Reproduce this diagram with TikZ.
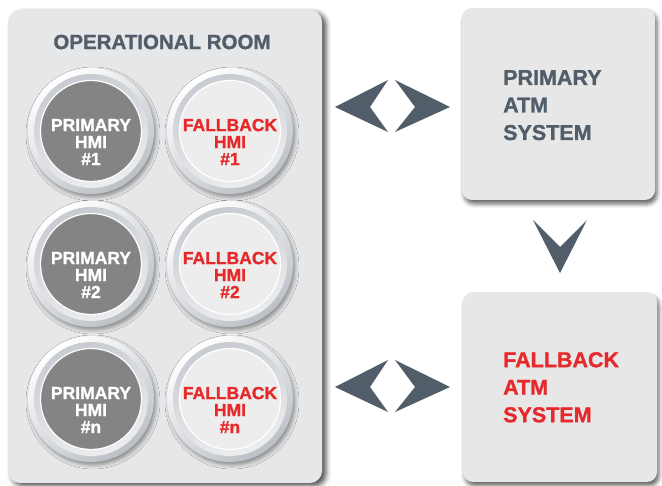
\documentclass[tikz,border=0pt]{standalone}
\usepackage{fontspec}
\setmainfont{Liberation Sans}
\newfontfamily\heavy{Liberation Sans}[FakeBold=1.2]
\usetikzlibrary{shadows,shadows.blur}
\definecolor{panelbg}{HTML}{E6E7E8}
\definecolor{slate}{HTML}{515D68}
\definecolor{redtxt}{HTML}{E62A2C}
\definecolor{primfill}{HTML}{848484}
\definecolor{fbfill}{HTML}{EDEDED}
\definecolor{ringdark}{HTML}{BCC0C6}
\definecolor{bandtop}{HTML}{C8CCD2}
\definecolor{bandbot}{HTML}{ECEDEF}
\definecolor{boxbg}{HTML}{E7E7E8}
\tikzset{
  panelbox/.style={fill=panelbg, rounded corners=12pt, inner sep=0pt,
    blur shadow={shadow xshift=4pt, shadow yshift=-3pt, shadow blur radius=5pt, shadow opacity=70}},
  sysbox/.style={fill=boxbg, rounded corners=10pt, inner sep=0pt, align=left,
    font=\fontsize{21.5}{27}\selectfont\heavy\bfseries,
    blur shadow={shadow xshift=2pt, shadow yshift=-4pt, shadow blur radius=4pt, shadow opacity=60}},
  systext/.style={align=left, inner sep=0pt, font=\fontsize{21.5}{27.5}\selectfont\heavy\bfseries},
  hmiouter/.style={circle, minimum size=126pt, inner sep=0pt,
    top color=white, bottom color=ringdark, shading angle=35,
    blur shadow={shadow xshift=2pt, shadow yshift=-3pt, shadow blur radius=4pt, shadow opacity=40}},
  hmiband/.style={circle, minimum size=114pt, inner sep=0pt,
    top color=bandtop, bottom color=bandbot, shading angle=20},
  hmiinner/.style={circle, minimum size=101pt, inner sep=0pt, draw=white, line width=1.2pt},
  hmitext/.style={align=center, inner sep=0pt, yshift=-11pt, font=\fontsize{17.5}{17}\selectfont\heavy\bfseries},
  primhmi/.style={hmiinner, fill=primfill},
  fbhmi/.style={hmiinner, fill=fbfill},
  chev/.style={fill=slate},
  dblchev/.pic={
    \fill[chev] (-57.5,0) -- (-4.5,-27) -- (-22.5,0) -- (-4.5,25) -- cycle;
    \fill[chev] (2.5,-27) -- (57.5,0) -- (2.5,25) -- (22.5,0) -- cycle;
  }
}
\begin{document}
\begin{tikzpicture}[x=1pt,y=-1pt]
\useasboundingbox (0,0) rectangle (662,486);
% operational room panel
\node[panelbox, minimum width=314pt, minimum height=473pt] (panel) at (165,246.5) {};
\node[text=slate, font=\fontsize{20.5}{24}\selectfont\heavy\bfseries] (title) at (162,42) {OPERATIONAL ROOM};
% HMI buttons
\foreach \nm/\x/\y in {r1a/91/131, r1b/230/131, r2a/91/264, r2b/230/264, r3a/91/399, r3b/230/399}{
  \node[hmiouter] (\nm) at (\x,\y) {};
  \node[hmiband] (\nm band) at (\x,\y) {};
}
\node[primhmi] (p1) at (r1a) {};
\node[fbhmi]   (f1) at (r1b) {};
\node[primhmi] (p2) at (r2a) {};
\node[fbhmi]   (f2) at (r2b) {};
\node[primhmi] (pn) at (r3a) {};
\node[fbhmi]   (fn) at (r3b) {};
\node[hmitext, text=white]  (p1t) at (p1) {PRIMARY\\HMI\\\#1};
\node[hmitext, text=redtxt] (f1t) at (f1) {FALLBACK\\HMI\\\#1};
\node[hmitext, text=white]  (p2t) at (p2) {PRIMARY\\HMI\\\#2};
\node[hmitext, text=redtxt] (f2t) at (f2) {FALLBACK\\HMI\\\#2};
\node[hmitext, text=white]  (pnt) at (pn) {PRIMARY\\HMI\\\#n};
\node[hmitext, text=redtxt] (fnt) at (fn) {FALLBACK\\HMI\\\#n};
% system boxes
\node[sysbox, minimum width=193pt, minimum height=192pt] (patm) at (558.5,104) {};
\node[systext, text=slate, anchor=north west] (patmt) at (503,70) {PRIMARY\\ATM\\SYSTEM};
\node[sysbox, minimum width=194pt, minimum height=190pt] (fatm) at (560,387) {};
\node[systext, text=redtxt, anchor=north west] (fatmt) at (503,352) {FALLBACK\\ATM\\SYSTEM};
% arrows
\pic at (392.5,107) {dblchev};
\pic at (392.5,387) {dblchev};
\fill[chev] (533,220) -- (560,247) -- (587,220) -- (560,273) -- cycle;
\end{tikzpicture}
\end{document}
